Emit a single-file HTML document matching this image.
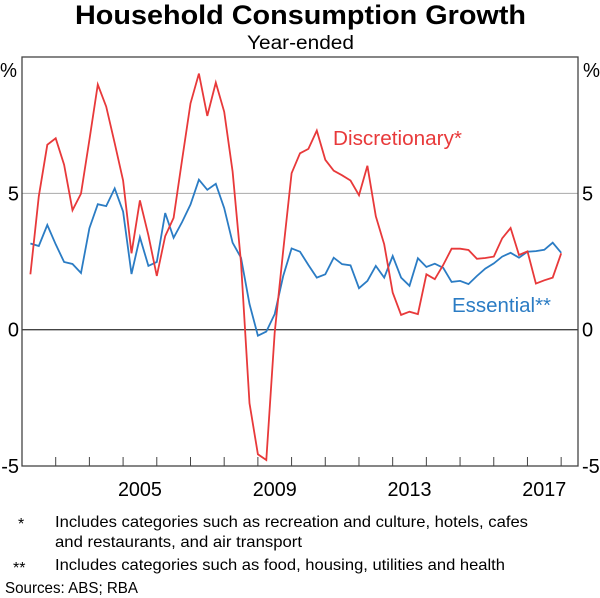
<!DOCTYPE html>
<html><head><meta charset="utf-8"><style>
body{margin:0;background:#fff;font-family:"Liberation Sans",Arial,sans-serif;}
#wrap{position:relative;width:600px;height:598px;overflow:hidden;}
svg text{font-family:"Liberation Sans",Arial,sans-serif;}
</style></head><body>
<div id="wrap">
<svg id="chart" width="600" height="598">
<text x="75" y="24" font-size="27" font-weight="bold" textLength="451" lengthAdjust="spacingAndGlyphs">Household Consumption Growth</text>
<text x="247" y="49" font-size="19" textLength="107" lengthAdjust="spacingAndGlyphs">Year-ended</text>
<text x="0" y="77" font-size="20" textLength="17" lengthAdjust="spacingAndGlyphs">%</text>
<text x="583" y="77" font-size="20" textLength="17" lengthAdjust="spacingAndGlyphs">%</text>
<g id="grid"></g>
<g id="series"></g>
<g id="axes"></g>
<text x="333" y="145" font-size="20" fill="#e8393a" textLength="129" lengthAdjust="spacingAndGlyphs">Discretionary*</text>
<text x="452" y="312" font-size="20" fill="#2b7cc4" textLength="99" lengthAdjust="spacingAndGlyphs">Essential**</text>
<text x="18" y="529" font-size="16">*</text>
<text x="55" y="527" font-size="16" textLength="473" lengthAdjust="spacingAndGlyphs">Includes categories such as recreation and culture, hotels, cafes</text>
<text x="55" y="547" font-size="16" textLength="247" lengthAdjust="spacingAndGlyphs">and restaurants, and air transport</text>
<text x="13" y="573" font-size="16">**</text>
<text x="55" y="570" font-size="16" textLength="450" lengthAdjust="spacingAndGlyphs">Includes categories such as food, housing, utilities and health</text>
<text x="5" y="593" font-size="16" textLength="133" lengthAdjust="spacingAndGlyphs">Sources: ABS; RBA</text>
</svg>
</div>
<script>
const yTicks=[-5,0,5];
const xLabels=[2005,2009,2013,2017];
const startYear=2002.25;
const discretionary=[2.03,4.89,6.78,7.02,6.05,4.38,4.99,6.96,8.99,8.18,6.84,5.47,2.80,4.74,3.46,1.97,
3.43,4.10,6.23,8.30,9.39,7.84,9.06,7.99,5.80,2.46,-2.70,-4.57,-4.78,-0.1,2.9,5.74,
6.47,6.63,7.30,6.23,5.83,5.66,5.47,4.93,6.01,4.16,3.13,1.36,0.54,0.66,0.57,2.03,
1.85,2.37,2.97,2.97,2.92,2.60,2.63,2.68,3.35,3.73,2.74,2.87,1.69,1.81,1.91,2.80];
const essential=[3.16,3.07,3.84,3.13,2.48,2.41,2.08,3.72,4.60,4.53,5.18,4.33,2.04,3.39,2.34,2.48,
4.28,3.37,3.95,4.59,5.50,5.13,5.35,4.46,3.19,2.64,0.94,-0.22,-0.07,0.57,1.97,2.98,
2.86,2.37,1.91,2.03,2.64,2.40,2.36,1.52,1.79,2.34,1.91,2.70,1.91,1.61,2.62,2.30,
2.42,2.27,1.75,1.79,1.67,1.97,2.24,2.43,2.68,2.82,2.64,2.86,2.88,2.93,3.19,2.82];
const L=22,R=578,T=57,B=466,x0=2002,x1=2018.5,yMin=-5,yMax=10;
const X=v=>L+(v-x0)/(x1-x0)*(R-L);
const Y=v=>B-(v-yMin)/(yMax-yMin)*(B-T);
const NS="http://www.w3.org/2000/svg";
function mk(tag,attrs,parent){const e=document.createElementNS(NS,tag);for(const k in attrs)e.setAttribute(k,attrs[k]);parent.appendChild(e);return e;}
const grid=document.getElementById('grid'),axes=document.getElementById('axes'),series=document.getElementById('series');
yTicks.forEach(v=>{
  let ln=mk('line',{x1:L,x2:R,y1:Y(v),y2:Y(v),stroke:v===0?'#444':'#aaa','stroke-width':v===0?1.3:1},grid);
  
  
  let tl=mk('text',{x:L-3,y:Y(v)+7,'text-anchor':'end','font-size':20},axes);tl.textContent=v;
  
  
  let tr=mk('text',{x:R+4,y:Y(v)+7,'font-size':20},axes);tr.textContent=v;
  
  
});
let frame=mk('rect',{x:L,y:T,width:R-L,height:B-T,fill:'none',stroke:'#444','stroke-width':1.3},axes);


for(let yr=2003;yr<=2018;yr++){
  let t=mk('line',{x1:X(yr),x2:X(yr),y1:B,y2:B-9,stroke:'#444','stroke-width':1},axes);
  
  
}
xLabels.forEach(yr=>{
  let t=mk('text',{x:X(yr+0.5),y:B+30,'text-anchor':'middle','font-size':20,textLength:44,lengthAdjust:'spacingAndGlyphs'},axes);t.textContent=yr;
  
  
});
function line(vals,color,name){
  const pts=vals.map((v,i)=>X(startYear+i*0.25).toFixed(1)+','+Y(v).toFixed(1)).join(' ');
  let p=mk('polyline',{points:pts,fill:'none',stroke:color,'stroke-width':1.8,'stroke-linejoin':'miter'},series);
  
  
}
line(essential,'#2b7cc4','essential-line');
line(discretionary,'#e8393a','discretionary-line');
</script>
</body></html>
